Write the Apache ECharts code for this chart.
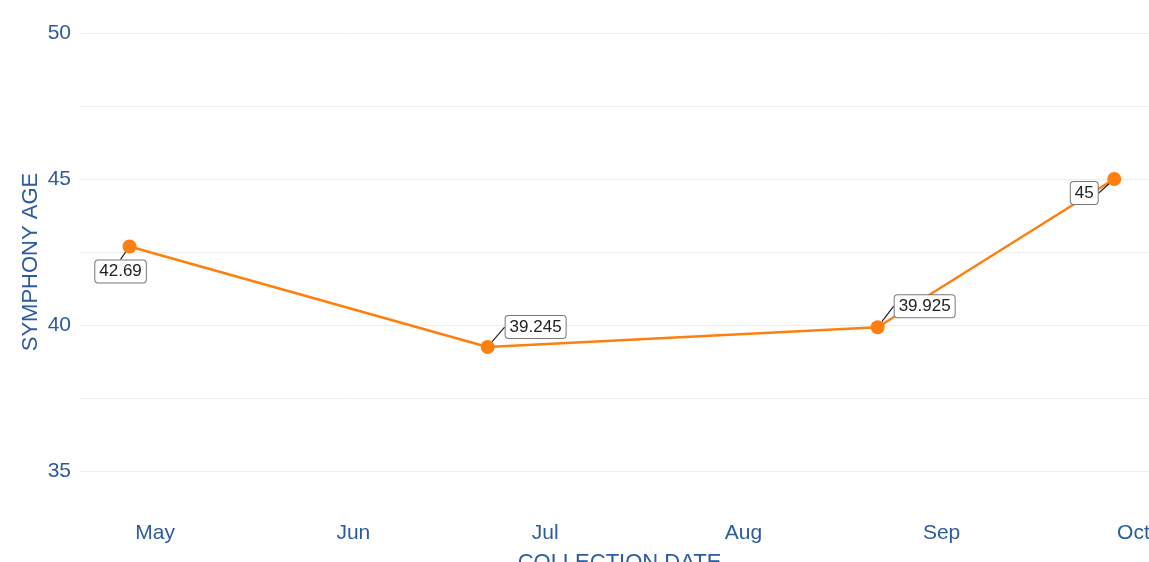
<!DOCTYPE html>
<html>
<head>
<meta charset="utf-8">
<script src="https://cdn.jsdelivr.net/npm/echarts@6/dist/echarts.min.js"></script>
<style>
  html, body { margin: 0; padding: 0; background: #fff; }
  #main { width: 1149px; height: 562px; }
</style>
</head>
<body>
<div id="main"></div>
<script>
// data
var collectionDates = ['2019-04-27', '2019-06-22', '2019-08-22', '2019-09-28'];
var symphonyAge = [42.69, 39.245, 39.925, 45];
var monthNames = ['Jan', 'Feb', 'Mar', 'Apr', 'May', 'Jun', 'Jul', 'Aug', 'Sep', 'Oct', 'Nov', 'Dec'];
var yTicks = [35, 40, 45, 50];

// label offsets (dx, dy) for each annotation box
var labelShift = [[-9, 25], [48, -20], [47, -21], [-30, 14]];

var blue = '#2d5b9f';
var orange = '#ff7f0e';

var chart = echarts.init(document.getElementById('main'));

var option = {
  animation: false,
  textStyle: { fontFamily: 'Liberation Sans, Arial, sans-serif' },
  grid: {
    left: 80,
    top: 33,
    width: 1079,
    height: 438,
    containLabel: false,
    outerBoundsMode: 'none'
  },
  xAxis: {
    type: 'time',
    min: '2019-04-19 06:00',
    max: '2019-10-05',
    name: 'COLLECTION DATE',
    nameLocation: 'middle',
    nameGap: 81,
    nameMoveOverlap: false,
    nameTextStyle: { color: blue, fontSize: 22 },
    axisLine: { show: false },
    axisTick: { show: false },
    splitLine: { show: false },
    axisLabel: {
      color: blue,
      fontSize: 21,
      margin: 52,
      showMinLabel: false,
      showMaxLabel: false,
      formatter: function (val) {
        return monthNames[new Date(val).getMonth()];
      }
    }
  },
  yAxis: {
    type: 'value',
    min: 35,
    max: 50,
    interval: 2.5,
    name: 'SYMPHONY AGE',
    nameLocation: 'middle',
    nameGap: 38,
    nameMoveOverlap: false,
    nameTextStyle: { color: blue, fontSize: 22, padding: [0, 20, 0, 0] },
    axisLine: { show: false },
    axisTick: { show: false },
    axisLabel: {
      color: blue,
      fontSize: 21,
      margin: 9,
      formatter: function (v) {
        return yTicks.indexOf(v) >= 0 ? String(v) : '';
      }
    },
    splitLine: { lineStyle: { color: '#eeeeee', width: 1 } }
  },
  series: [{
    type: 'line',
    data: collectionDates.map(function (d, i) { return [d, symphonyAge[i]]; }),
    symbol: 'circle',
    symbolSize: 14,
    itemStyle: { color: orange },
    lineStyle: { color: orange, width: 2.5 },
    label: {
      show: true,
      position: 'inside',
      color: '#222',
      fontSize: 17,
      backgroundColor: '#fff',
      borderColor: '#777',
      borderWidth: 1,
      borderRadius: 3,
      padding: [3, 4, 2, 4],
      formatter: function (p) { return String(p.value[1]); }
    },
    labelLine: {
      show: true,
      lineStyle: { color: '#222', width: 1.2 }
    },
    labelLayout: function (params) {
      var s = labelShift[params.dataIndex];
      return { dx: s[0], dy: s[1] };
    }
  }]
};

chart.setOption(option);
</script>
</body>
</html>
